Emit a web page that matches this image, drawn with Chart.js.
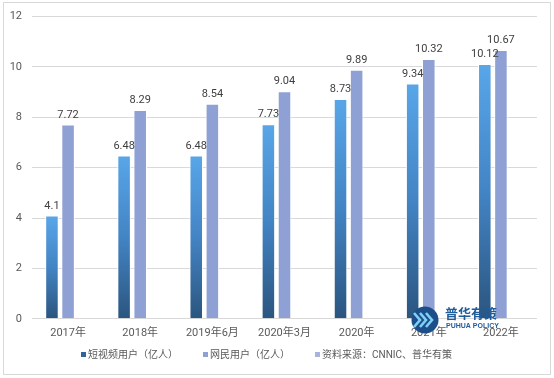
<!DOCTYPE html>
<html>
<head>
<meta charset="utf-8">
<script src="https://cdn.jsdelivr.net/npm/chart.js@4/dist/chart.umd.min.js"></script>
<style>
html,body{margin:0;padding:0;background:#fff;}
#wrap{width:554px;height:378px;position:relative;}
</style>
</head>
<body>
<div id="wrap"><canvas id="c" width="554" height="378"></canvas></div>
<script>
const categories = ['2017年','2018年','2019年6月','2020年3月','2020年','2021年','2022年'];
const shortVideoUsers = [4.1, 6.48, 6.48, 7.73, 8.73, 9.34, 10.12];
const netUsers = [7.72, 8.29, 8.54, 9.04, 9.89, 10.32, 10.67];
const sourceSeries = [];
const seriesNames = ['短视频用户（亿人）','网民用户（亿人）','资料来源：CNNIC、普华有策'];
const yTicks = { min: 0, max: 12, step: 2 };

const FONT = "Roboto, 'Noto Sans CJK SC', sans-serif";
const LEGEND_COLORS = ['#2f64a0', '#8fa1d4', '#a7b4dd'];

function blueGradient(ctx) {
  const chart = ctx.chart;
  if (ctx.type !== 'data' || !chart.chartArea) return LEGEND_COLORS[0];
  const y = chart.scales.y;
  const top = y.getPixelForValue(ctx.raw);
  const bottom = y.getPixelForValue(0);
  if (!isFinite(top) || !isFinite(bottom)) return LEGEND_COLORS[0];
  const g = chart.ctx.createLinearGradient(0, top, 0, bottom);
  g.addColorStop(0, '#58a6e8');
  g.addColorStop(0.5, '#4384c4');
  g.addColorStop(1, '#2b557f');
  return g;
}

const framePlugin = {
  id: 'frame',
  beforeDraw(chart) {
    const c = chart.ctx;
    c.save();
    c.fillStyle = '#fff';
    c.fillRect(0, 0, chart.width, chart.height);
    c.strokeStyle = '#d9d9d9';
    c.lineWidth = 1;
    c.strokeRect(3.5, 2.5, 547, 372);
    c.restore();
  }
};

const labelPlugin = {
  id: 'valueLabels',
  afterDatasetsDraw(chart) {
    const c = chart.ctx;
    c.save();
    c.font = "11px " + FONT;
    c.fillStyle = '#404040';
    c.textAlign = 'center';
    c.textBaseline = 'bottom';
    [0, 1].forEach(di => {
      const meta = chart.getDatasetMeta(di);
      const data = chart.data.datasets[di].data;
      meta.data.forEach((bar, i) => {
        c.fillText(String(data[i]), bar.x, bar.y - 4);
      });
    });
    c.restore();
  }
};

const legendPlugin = {
  id: 'customLegend',
  afterDraw(chart) {
    const c = chart.ctx;
    c.save();
    c.font = "10px " + FONT;
    c.textBaseline = 'middle';
    c.textAlign = 'left';
    let x = 81;
    const y = 355;
    chart.data.datasets.forEach((ds, i) => {
      c.fillStyle = LEGEND_COLORS[i];
      c.fillRect(x, y - 3, 5, 5);
      c.fillStyle = '#595959';
      c.fillText(ds.label, x + 7, y);
      x += 7 + c.measureText(ds.label).width + 25;
    });
    c.restore();
  }
};

const logoPlugin = {
  id: 'logo',
  afterDraw(chart) {
    const c = chart.ctx;
    c.save();
    c.fillStyle = '#1c4f8a';
    c.beginPath();
    c.arc(425, 320, 13.5, 0, Math.PI * 2);
    c.fill();
    c.strokeStyle = '#7fd0f5';
    c.lineWidth = 2.6;
    [-6, 0, 6].forEach(dx => {
      c.beginPath();
      c.moveTo(420 + dx, 313);
      c.lineTo(426 + dx, 320);
      c.lineTo(420 + dx, 327);
      c.stroke();
    });
    c.fillStyle = '#1f5c9c';
    c.font = "bold 13px 'Noto Sans CJK SC', sans-serif";
    c.textAlign = 'left';
    c.textBaseline = 'middle';
    c.fillText('普华有策', 445, 313);
    c.font = "bold 7px 'Liberation Sans', sans-serif";
    c.fillText('PUHUA POLICY', 446, 326);
    c.restore();
  }
};

new Chart(document.getElementById('c'), {
  type: 'bar',
  data: {
    labels: categories,
    datasets: [
      { label: seriesNames[0], data: shortVideoUsers, backgroundColor: blueGradient,
        borderColor: '#ffffff', borderWidth: {top:1,left:1,right:1,bottom:0},
        categoryPercentage: 0.67, barPercentage: 0.84 },
      { label: seriesNames[1], data: netUsers, backgroundColor: '#8fa1d4',
        borderColor: '#ffffff', borderWidth: {top:1,left:1,right:1,bottom:0},
        categoryPercentage: 0.67, barPercentage: 0.84 },
      { label: seriesNames[2], data: sourceSeries, backgroundColor: '#a7b4dd',
        categoryPercentage: 0.67, barPercentage: 0.84 }
    ]
  },
  options: {
    responsive: false,
    animation: false,
    layout: { padding: { left: 3, right: 17, top: 10, bottom: 30 } },
    plugins: {
      legend: { display: false },
      tooltip: { enabled: false }
    },
    scales: {
      x: {
        grid: { display: false, drawTicks: false },
        border: { display: false },
        ticks: { color: '#595959', font: { size: 11, family: FONT }, padding: 8, maxRotation: 0 }
      },
      y: {
        min: yTicks.min, max: yTicks.max,
        afterFit(s) { s.width = 29; },
        grid: { color: '#d9d9d9', drawTicks: false },
        border: { display: false },
        ticks: { stepSize: yTicks.step, color: '#595959', font: { size: 11, family: FONT }, padding: 10 }
      }
    }
  },
  plugins: [framePlugin, labelPlugin, legendPlugin, logoPlugin]
});
</script>
</body>
</html>
